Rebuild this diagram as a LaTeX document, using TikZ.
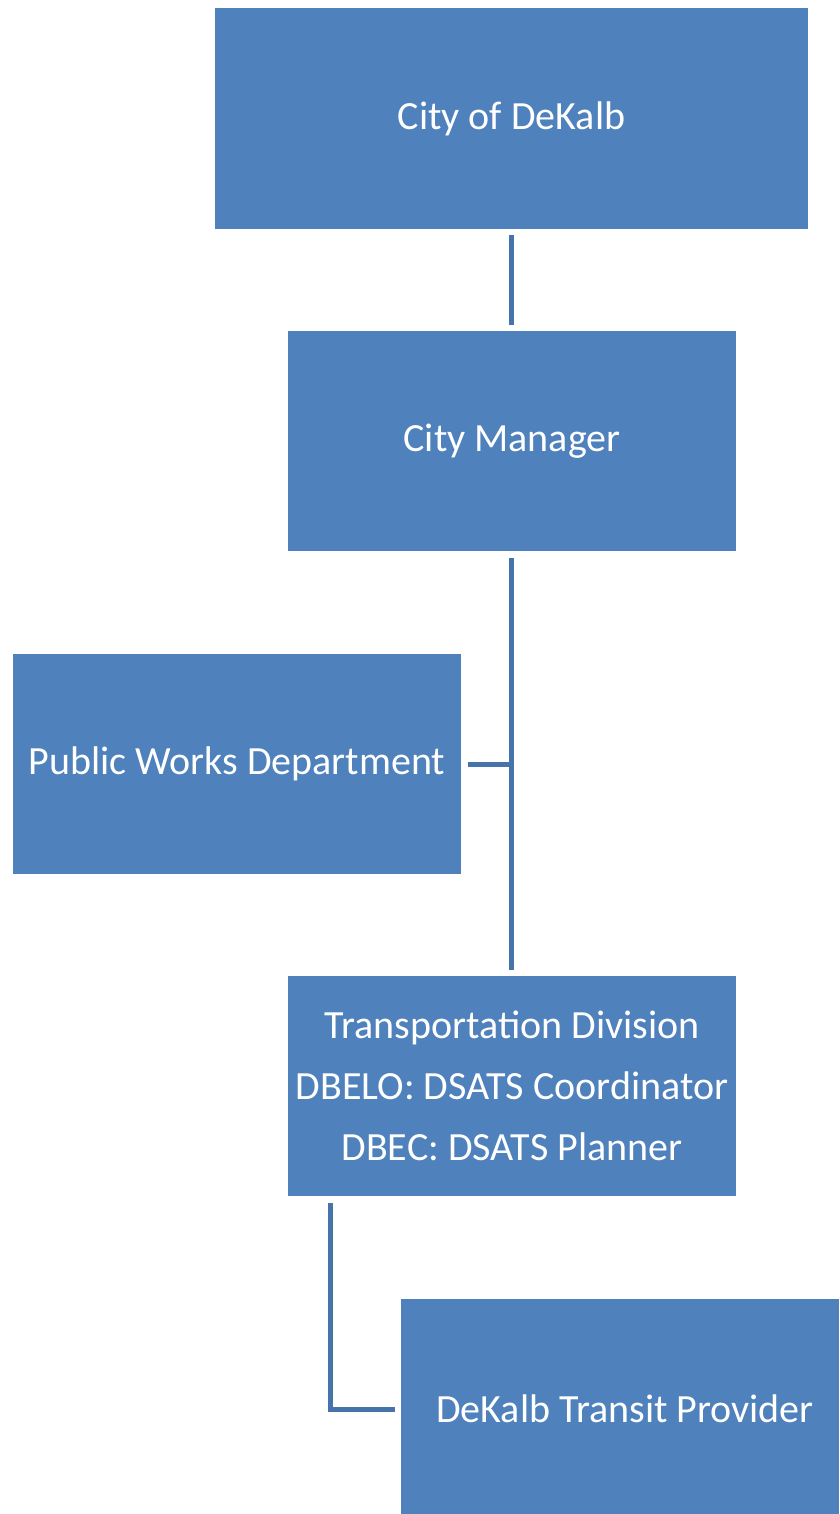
\documentclass[tikz,border=0pt]{standalone}
\usepackage{fontspec}
\setmainfont{Carlito}
\definecolor{boxblue}{HTML}{4F81BD}
\definecolor{lineblue}{HTML}{4673AA}
\begin{document}
\begin{tikzpicture}[x=1pt,y=-1pt,
  orgbox/.style={fill=boxblue,draw=none},
  orgtext/.style={text=white,font=\fontsize{40}{61}\selectfont,align=center,inner sep=0pt},
  conn/.style={draw=lineblue,line width=5pt}]
\useasboundingbox (0,0) rectangle (839,1514);
\path[orgbox] (215,8) rectangle (808,229);
\node[orgtext] (a) at (511.5,118.5) {City of DeKalb};
\path[orgbox] (288,331) rectangle (736,551);
\node[orgtext] (b) at (512,441) {City Manager};
\path[orgbox] (13,654) rectangle (461,874);
\node[orgtext] (c) at (237,764) {Public Works Department};
\path[orgbox] (288,976) rectangle (736,1196);
\node[orgtext] (d) at (512,1086) {Transportation Division\\DBELO: DSATS Coordinator\\DBEC: DSATS Planner};
\path[orgbox] (401,1299) rectangle (839,1514);
\node[orgtext] (e) at (625,1409) {DeKalb Transit Provider};
\coordinate (t1) at (511.5,235);
\coordinate (t2) at (511.5,325);
\coordinate (m1) at (511.5,558);
\coordinate (m2) at (511.5,970);
\coordinate (p1) at (468,764);
\coordinate (p2) at (511.5,764);
\coordinate (q1) at (330,1203);
\coordinate (q2) at (330,1409);
\coordinate (q3) at (395,1409);
\draw[conn] (t1) -- (t2);
\draw[conn] (m1) -- (m2);
\draw[conn] (p1) -- (p2);
\draw[conn] (q1) -- (q2) -- (q3);
\end{tikzpicture}
\end{document}
